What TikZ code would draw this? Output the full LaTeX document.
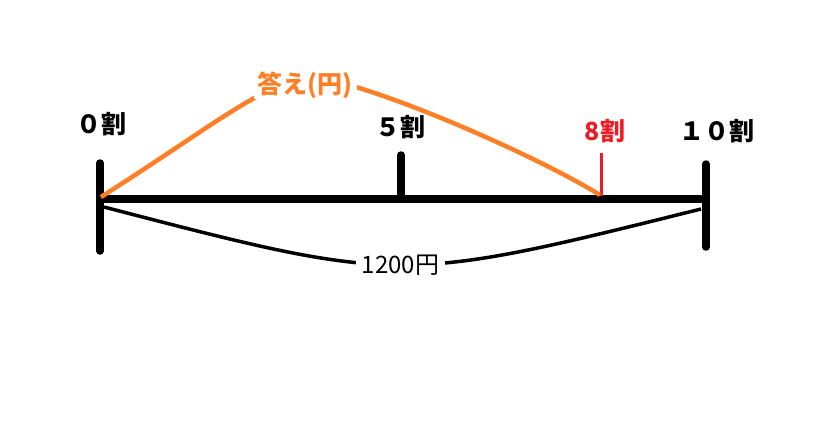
\documentclass[tikz,border=0pt]{standalone}
\usepackage{fontspec}
\newfontfamily\jp{Noto Sans CJK JP}
\definecolor{paintorange}{RGB}{255,127,39}
\definecolor{paintred}{RGB}{237,28,36}

\begin{document}
\begin{tikzpicture}[x = 1pt, y = -1pt,
	bar/.style = {line width = 7.5pt, line cap = round},
	lbl/.style = {font = \jp\bfseries\fontsize{25}{25}\selectfont, inner sep = 0pt},
	gap/.style = {fill = white, inner sep = 1pt}]

	\useasboundingbox (0, 0) rectangle (825, 423);

	% Definitions

	\def\Y{199}		% Height of number line
	\def\L{100}		% Left end
	\def\R{706}		% Right end

	% Number line + ticks

	\coordinate (left) at (\L, \Y);
	\coordinate (right) at (\R, \Y);
	\coordinate (five) at (401, \Y);
	\coordinate (eight) at (601, \Y);

	\draw [bar] (left) -- (right);
	\draw [bar] (\L, 163) -- (\L, 251);
	\draw [bar] (\R, 164) -- (\R, 247);
	\draw [bar] (five) -- (401, 155);
	\draw [paintred, line width = 3pt] (601, 196) -- (601, 153);

	% Labels for ticks

	\node [lbl] (zero) at (101, 124) {０割};
	\node [lbl] (half) at (400, 127) {５割};
	\node [lbl, text = paintred] (eightlbl) at (605, 131) {8割};
	\node [lbl] (ten) at (717, 131) {１０割};

	% Answer arc

	\coordinate (top) at (330, 80);
	\draw [paintorange, line width = 4.5pt]
		(101, 197) .. controls (230, 115) and (280, 68) .. (top)
		.. controls (400, 96) and (540, 158) .. (600, 195);
	\node [gap, text = paintorange, inner xsep = 4pt, font = \jp\bfseries\fontsize{25}{25}\selectfont] (answer) at (305, 85) {答え(円)};

	% Total arc

	\draw [line width = 3.5pt] (104, 207) .. controls (400, 284) .. (701, 209)
		node [gap, pos = 0.5, inner xsep = 6pt, font = \jp\fontsize{24}{24}\selectfont] (total) {1200円};

\end{tikzpicture}
\end{document}
